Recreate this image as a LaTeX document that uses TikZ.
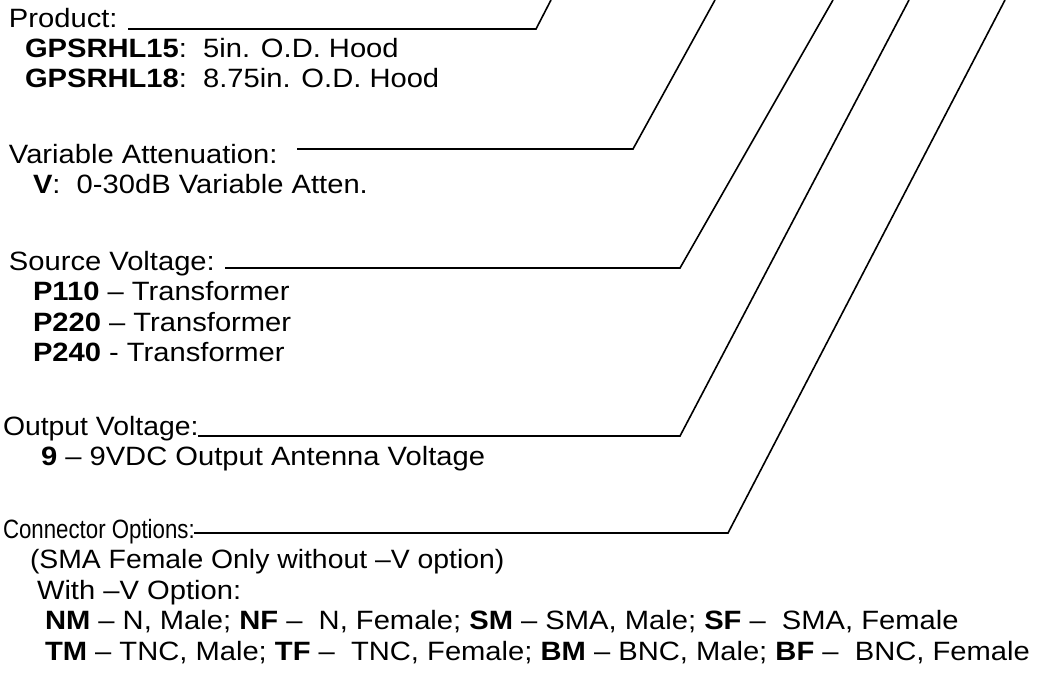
\documentclass[tikz,border=0pt]{standalone}
\usepackage{fontspec}
\setmainfont{Liberation Sans}
\newcommand{\wt}[2][1.1]{\scalebox{#1}[1]{#2}}
\begin{document}
\begin{tikzpicture}[x=1pt,y=-1pt,
  txt/.style={anchor=base west, inner sep=0pt, outer sep=0pt, font=\fontsize{26.5}{30}\selectfont},
  lead/.style={line width=1.6pt, line join=miter}]
\useasboundingbox (0,0) rectangle (1044,675);
% Product block
\node[txt] (prod) at (9,27) {\wt{Product:}};
\node[txt] (g15) at (25,57) {\wt{\textbf{GPSRHL15}:\ \ 5in. O.D. Hood}};
\node[txt] (g18) at (25,87) {\wt{\textbf{GPSRHL18}:\ \ 8.75in. O.D. Hood}};
% Variable attenuation
\node[txt] (var) at (9,163) {\wt{Variable Attenuation:}};
\node[txt] (vopt) at (33,193.5) {\wt{\textbf{V}:\ \ 0-30dB Variable Atten.}};
% Source voltage
\node[txt] (src) at (9,270) {\wt{Source Voltage:}};
\node[txt] (p110) at (33,300.5) {\wt{\textbf{P110} – Transformer}};
\node[txt] (p220) at (33,331) {\wt{\textbf{P220} – Transformer}};
\node[txt] (p240) at (33,361.5) {\wt{\textbf{P240} - Transformer}};
% Output voltage
\node[txt] (out) at (3,435) {\wt[1.07]{Output Voltage:}};
\node[txt] (nine) at (41,465.5) {\wt{\textbf{9} – 9VDC Output Antenna Voltage}};
% Connector options
\node[txt] (con) at (3,538) {\wt[0.84]{Connector Options:}};
\node[txt] (sma) at (30,568.5) {\wt[1.07]{(SMA Female Only without –V option)}};
\node[txt] (withv) at (37,599) {\wt{With –V Option:}};
\node[txt] (nm) at (45,629.5) {\wt[1.1]{\textbf{NM} – N, Male; \textbf{NF} –\ \ N, Female; \textbf{SM} – SMA, Male; \textbf{SF} –\ \ SMA, Female}};
\node[txt] (tm) at (45,660) {\wt[1.1]{\textbf{TM} – TNC, Male; \textbf{TF} –\ \ TNC, Female; \textbf{BM} – BNC, Male; \textbf{BF} –\ \ BNC, Female}};
% leader coordinates
\coordinate (prodS) at (128,29);  \coordinate (prodC) at (536,29);  \coordinate (prodT) at (551,0);
\coordinate (varS) at (297,149);  \coordinate (varC) at (633,149);  \coordinate (varT) at (715,0);
\coordinate (srcS) at (225,268);  \coordinate (srcC) at (680,268);  \coordinate (srcT) at (833,0);
\coordinate (outS) at (198,436);  \coordinate (outC) at (680,436);  \coordinate (outT) at (909,0);
\coordinate (conS) at (194,533);  \coordinate (conC) at (728,533);  \coordinate (conT) at (1005,0);
\draw[lead] (prodS) -- (prodC) -- (prodT);
\draw[lead] (varS) -- (varC) -- (varT);
\draw[lead] (srcS) -- (srcC) -- (srcT);
\draw[lead] (outS) -- (outC) -- (outT);
\draw[lead] (conS) -- (conC) -- (conT);
\end{tikzpicture}
\end{document}
